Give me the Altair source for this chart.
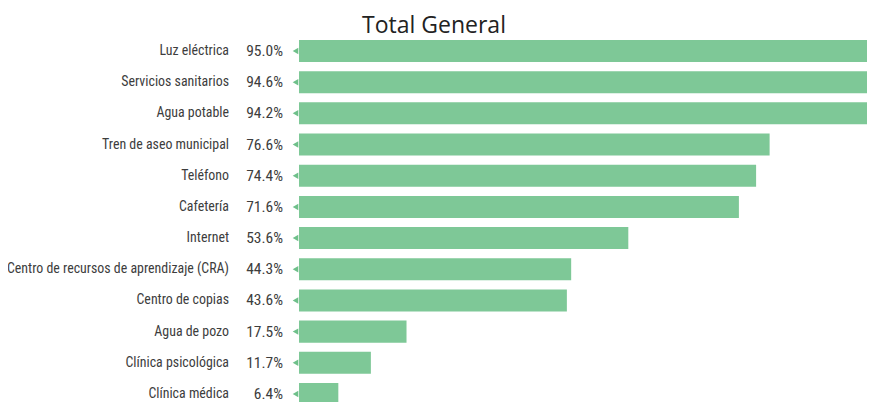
import altair as alt
import pandas as pd

categories = [
    "Luz eléctrica", "Servicios sanitarios", "Agua potable", "Tren de aseo municipal",
    "Teléfono", "Cafetería", "Internet", "Centro de recursos de aprendizaje (CRA)",
    "Centro de copias", "Agua de pozo", "Clínica psicológica", "Clínica médica",
]
values = [95.0, 94.6, 94.2, 76.6, 74.4, 71.6, 53.6, 44.3, 43.6, 17.5, 11.7, 6.4]
title_text = "Total General"

df = pd.DataFrame({"cat": categories, "val": values})
df["lbl"] = [f"{v:.1f}%" for v in values]

BAR = "#7ec897"
TXT = "#3d3d3d"
NARROW = "Liberation Sans Narrow, Roboto Condensed, DejaVu Sans Condensed, sans-serif"

y = alt.Y("cat:N", sort=categories, axis=None,
          scale=alt.Scale(paddingInner=0.294, paddingOuter=0.147))

bars = alt.Chart(df).mark_bar(color=BAR).encode(
    y=y,
    x=alt.X("val:Q", axis=None, scale=alt.Scale(domain=[0, 92.45], clamp=True, nice=False)),
)

cat_text = alt.Chart(df).mark_text(
    align="right", baseline="middle", font=NARROW, fontSize=13.9, color=TXT
).encode(y=y, x=alt.value(-70), text="cat:N")

pct_text = alt.Chart(df).mark_text(
    align="right", baseline="middle", font=NARROW, fontSize=15.5, color=TXT
).encode(y=y, x=alt.value(-16), text="lbl:N")

tri = alt.Chart(df).mark_point(
    shape="triangle-left", filled=True, color="#6fc08a", opacity=1, size=42
).encode(y=y, x=alt.value(-3.5))

title = alt.Chart(pd.DataFrame({"t": [title_text]})).mark_text(
    align="center", baseline="alphabetic", font="Open Sans", fontSize=23, color="#222222"
).encode(x=alt.value(135), y=alt.value(-2.4), text="t:N")

chart = alt.layer(bars, tri, cat_text, pct_text, title).properties(
    width=568, height=374.16,
    autosize=alt.AutoSizeParams(type="none"),
    padding={"left": 291, "top": 27.41, "right": 0, "bottom": -7.57},
).configure_view(stroke=None)

chart.save("out.html", embed_options={"renderer": "svg", "actions": False})
